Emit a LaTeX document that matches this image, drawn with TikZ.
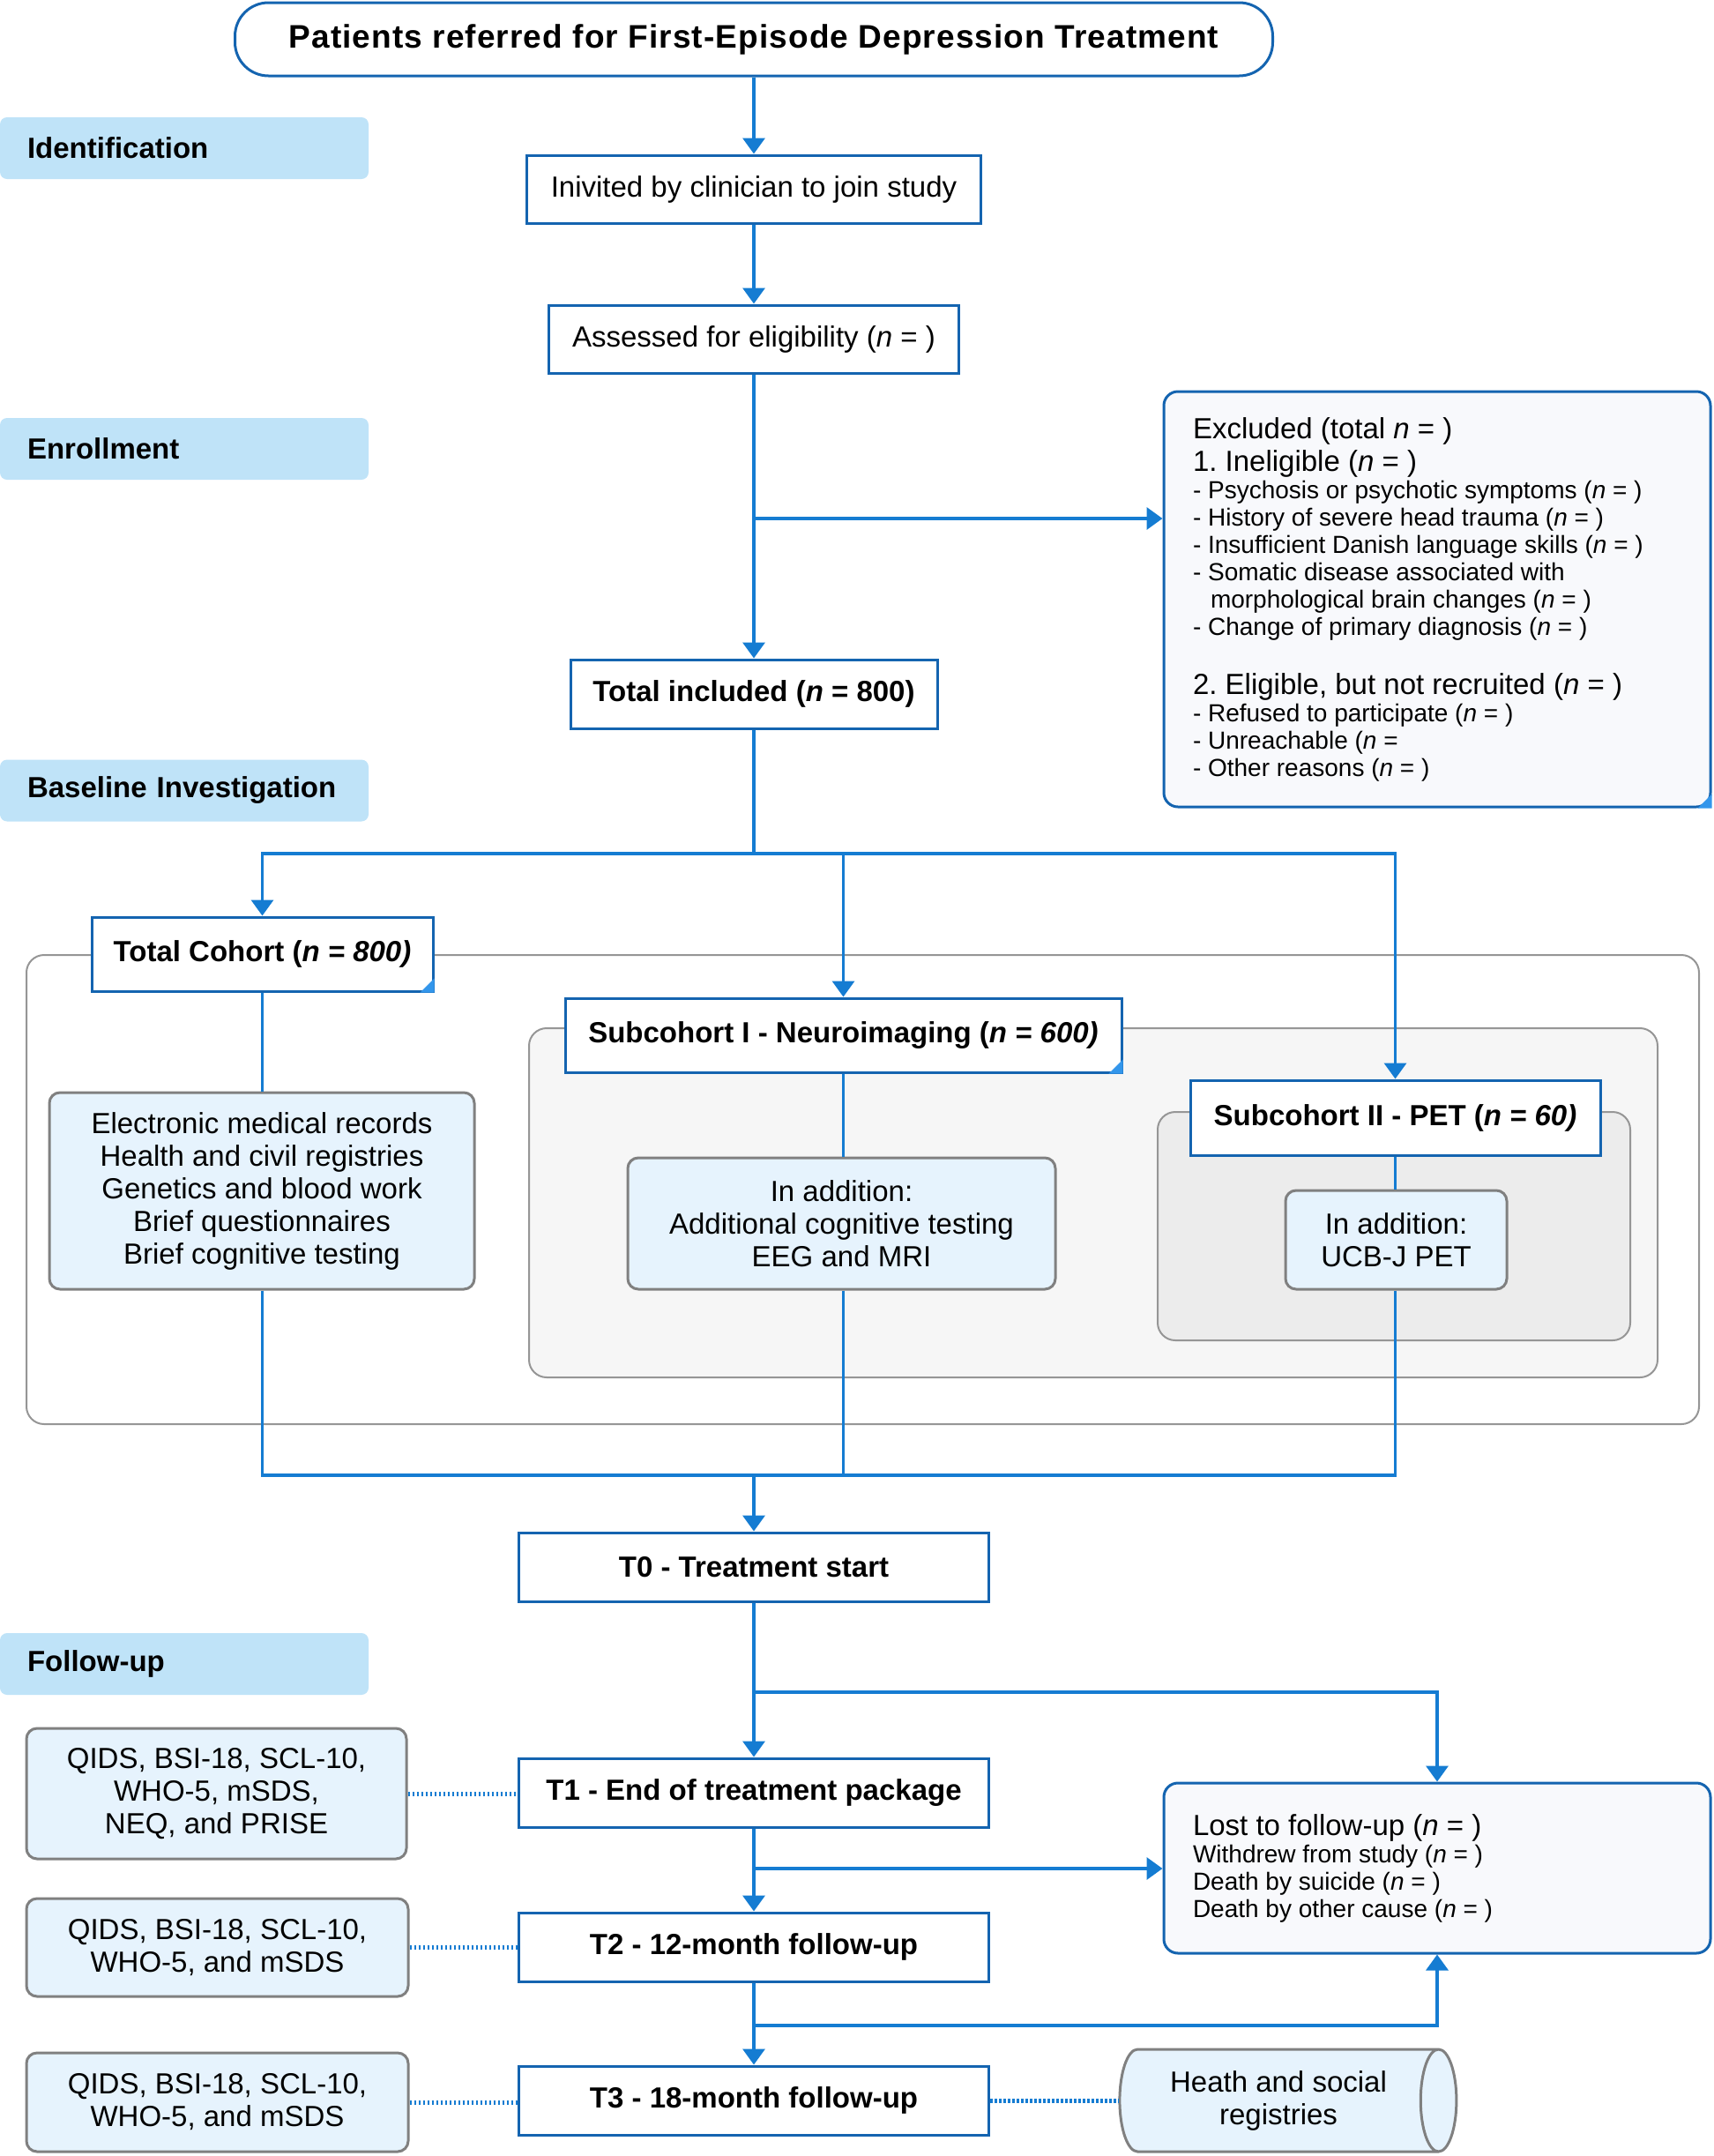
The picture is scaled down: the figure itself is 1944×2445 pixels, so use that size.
\documentclass[tikz,border=0pt]{standalone}
\usepackage{fontspec}
\setmainfont{Liberation Sans}
\newfontfamily\topfont[LetterSpace=3]{Liberation Sans}
\usetikzlibrary{arrows.meta,shapes.geometric}
\frenchspacing
\definecolor{conn}{RGB}{21,124,210}
\definecolor{bord}{RGB}{20,100,176}
\definecolor{labfill}{RGB}{191,227,248}
\definecolor{detfill}{RGB}{230,243,253}
\definecolor{detbord}{RGB}{128,128,128}
\definecolor{exfill}{RGB}{248,249,252}
\definecolor{midfill}{RGB}{246,246,246}
\definecolor{innfill}{RGB}{236,236,236}
\definecolor{contbord}{RGB}{150,150,150}
\definecolor{tri}{RGB}{51,150,235}
\tikzset{
  fnorm/.style={font=\fontsize{33}{37}\selectfont},
  fbold/.style={font=\fontsize{33}{37}\selectfont\bfseries},
  mainbox/.style={draw=bord, line width=3pt, fill=white, inner sep=0pt, align=center, fbold},
  plainbox/.style={mainbox, fnorm},
  tbox/.style={mainbox, minimum width=533pt, minimum height=78pt},
  labbox/.style={fill=labfill, rounded corners=8pt, minimum width=418pt, minimum height=70pt,
     text width=356pt, inner xsep=31pt, align=left, fbold},
  detbox/.style={draw=detbord, line width=3pt, fill=detfill, rounded corners=12pt, inner sep=0pt, align=center, fnorm},
  exbox/.style={draw=bord, line width=3pt, fill=exfill, rounded corners=16pt, inner xsep=33pt, inner ysep=0pt,
     text width=554pt, align=left, minimum width=620pt, fnorm},
  cont/.style={draw=contbord, line width=2pt, rounded corners=20pt},
  cline/.style={draw=conn, line width=3.5pt},
  arr/.style={cline, -{Triangle[width=25pt,length=18pt]}},
  dotline/.style={draw=conn, line width=5pt, dash pattern=on 2.5pt off 2.5pt},
}
\begin{document}
\begin{tikzpicture}[x=1pt,y=-1pt]
\useasboundingbox (0,0) rectangle (1944,2445);
% containers
\draw[cont, fill=white] (30,1083) rectangle (1927,1615);
\draw[cont, fill=midfill] (600,1166) rectangle (1880,1562);
\draw[cont, fill=innfill] (1313,1261) rectangle (1849,1520);

% stage labels
\node[labbox] (lab1) at (209,168) {Identification};
\node[labbox] (lab2) at (209,509) {Enrollment};
\node[labbox] (lab3) at (209,896.5) {Baseline Investigation};
\node[labbox] (lab4) at (209,1887) {Follow-up};

% main column
\node[mainbox, rounded corners=38pt, minimum width=1177pt, minimum height=83pt,
      font=\fontsize{37}{40}\selectfont\topfont\bfseries] (top) at (855,44.5)
      {Patients referred for First-Episode Depression Treatment};
\node[plainbox, minimum width=515pt, minimum height=77pt] (invited) at (855,214.5) {Inivited by clinician to join study};
\node[plainbox, minimum width=465pt, minimum height=77pt] (assessed) at (855,384.5) {Assessed for eligibility (\textit{n} = )};
\node[mainbox, minimum width=416pt, minimum height=78pt] (incl) at (855,787) {Total included (\textit{n} = 800)};

\node[exbox, minimum height=471pt] (excl) at (1630,679.5) {%
\spaceskip=0pt \xspaceskip=0pt
\fontsize{33}{37}\selectfont Excluded (total \textit{n} = )\par
1. Ineligible (\textit{n} = )\par
\fontsize{28}{31}\selectfont - Psychosis or psychotic symptoms (\textit{n} = )\par
- History of severe head trauma (\textit{n} = )\par
- Insufficient Danish language skills (\textit{n} = )\par
- Somatic disease associated with\par
\hspace*{20pt}morphological brain changes (\textit{n} = )\par
- Change of primary diagnosis (\textit{n} = )\par
\vspace*{30pt}%
\fontsize{33}{37}\selectfont 2. Eligible, but not recruited (\textit{n} = )\par
\fontsize{28}{31}\selectfont - Refused to participate (\textit{n} = )\par
- Unreachable (\textit{n} =\par
- Other reasons (\textit{n} = )\par};

% cohorts
\node[mainbox, minimum width=387pt, minimum height=84pt] (cohort) at (297.5,1082) {Total Cohort (\textit{n = 800)}};
\node[mainbox, minimum width=631pt, minimum height=84pt] (sub1) at (956.5,1174) {Subcohort I - Neuroimaging (\textit{n = 600)}};
\node[mainbox, minimum width=465pt, minimum height=85pt] (sub2) at (1582.5,1267.5) {Subcohort II - PET (\textit{n = 60)}};
\fill[tri] ([xshift=-16pt]cohort.south east) -- (cohort.south east) -- ([yshift=16pt]cohort.south east) -- cycle;
\fill[tri] ([xshift=-16pt]sub1.south east) -- (sub1.south east) -- ([yshift=16pt]sub1.south east) -- cycle;
\fill[tri] ([xshift=-16pt]excl.south east) -- (excl.south east) -- ([yshift=16pt]excl.south east) -- cycle;

\node[detbox, minimum width=482pt, minimum height=223pt] (emr) at (297,1350.5)
  {Electronic medical records\\Health and civil registries\\Genetics and blood work\\Brief questionnaires\\Brief cognitive testing};
\node[detbox, minimum width=485pt, minimum height=149pt] (add1) at (954.5,1387.5)
  {In addition:\\Additional cognitive testing\\EEG and MRI};
\node[detbox, minimum width=251pt, minimum height=112pt] (add2) at (1583.5,1406)
  {In addition:\\UCB-J PET};

% follow-up
\node[tbox] (t0) at (855,1777) {T0 - Treatment start};
\node[tbox] (t1) at (855,2033) {T1 - End of treatment package};
\node[tbox] (t2) at (855,2208) {T2 - 12-month follow-up};
\node[tbox] (t3) at (855,2382) {T3 - 18-month follow-up};

\node[detbox, minimum width=431pt, minimum height=148pt] (q1) at (245.5,2034)
  {QIDS, BSI-18, SCL-10,\\WHO-5, mSDS,\\NEQ, and PRISE};
\node[detbox, minimum width=433pt, minimum height=111pt] (q2) at (246.5,2208.5)
  {QIDS, BSI-18, SCL-10,\\WHO-5, and mSDS};
\node[detbox, minimum width=433pt, minimum height=112pt] (q3) at (246.5,2384)
  {QIDS, BSI-18, SCL-10,\\WHO-5, and mSDS};

\node[exbox, minimum height=193pt] (lost) at (1630,2118.5) {%
\spaceskip=0pt \xspaceskip=0pt
\fontsize{33}{37}\selectfont Lost to follow-up (\textit{n} = )\par
\fontsize{28}{31}\selectfont Withdrew from study (\textit{n} = )\par
Death by suicide (\textit{n} = )\par
Death by other cause (\textit{n} = )\par};

\node[cylinder, draw=detbord, line width=3pt, fill=detfill, aspect=0.6, minimum width=116pt, minimum height=382pt,
      inner sep=0pt, align=center, fnorm] (cyl) at (1450,2382) {Heath and social\\registries};

% connectors
\coordinate (b1) at (855,588);
\coordinate (br) at (855,968);
\coordinate (mg) at (855,1673);
\coordinate (f1) at (855,1919);
\coordinate (f2) at (855,2119);
\coordinate (f3) at (855,2297);

\draw[arr] (top) -- (invited);
\draw[arr] (invited) -- (assessed);
\draw[arr] (assessed) -- (incl);
\draw[arr] (b1) -- (b1 -| excl.west);
\draw[cline] (incl.south) -- (br);
\draw[arr] (br) -| (cohort.north);
\draw[arr] (br) -| (sub1.north);
\draw[arr] (br) -| (sub2.north);
\draw[cline] (cohort.south) -- (cohort.south |- emr.north);
\draw[cline] (sub1.south) -- (sub1.south |- add1.north);
\draw[cline] (sub2.south) -- (sub2.south |- add2.north);
\draw[cline] (cohort.south |- emr.south) |- (mg);
\draw[cline] (sub1.south |- add1.south) |- (mg);
\draw[cline] (sub2.south |- add2.south) |- (mg);
\draw[arr] (mg) -- (t0);
\draw[arr] (t0) -- (t1);
\draw[arr] (t1) -- (t2);
\draw[arr] (t2) -- (t3);
\draw[arr] (f1) -| (lost.north);
\draw[arr] (f2) -- (f2 -| lost.west);
\draw[arr] (f3) -| (lost.south);
\draw[dotline] (q1.east) -- (q1.east -| t1.west);
\draw[dotline] (q2.east) -- (q2.east -| t2.west);
\draw[dotline] (q3.east) -- (q3.east -| t3.west);
\draw[dotline] (t3.east) -- (t3.east -| cyl.west);
\end{tikzpicture}
\end{document}
